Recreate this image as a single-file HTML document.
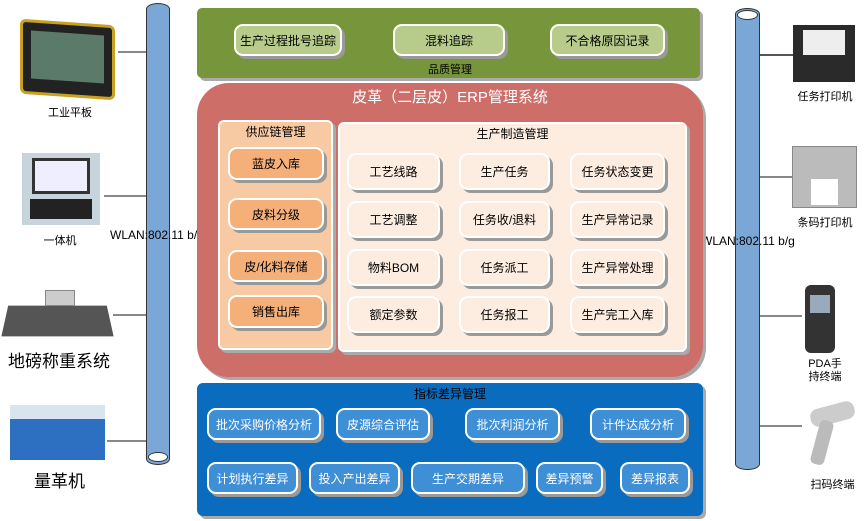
<!DOCTYPE html>
<html><head><meta charset="utf-8"><style>
*{margin:0;padding:0;box-sizing:border-box}
body{width:865px;height:521px;background:#fff;position:relative;overflow:hidden;font-family:"Liberation Sans","Noto Sans CJK SC",sans-serif;font-size:12px;color:#000}
.a{position:absolute}
.p{position:absolute;box-shadow:3px 3px 0 #aaa}
.b{position:absolute;display:flex;align-items:center;justify-content:center;border:2px solid #fff;border-radius:9px;box-shadow:3px 3px 0 #999;font-size:12px}
.g{background:#b7cc8a}
.o{background:#f5b07a}
.w{background:#fdece0;border-color:#fff}
.bl{background:#3e8fd6;color:#fff}
.t{position:absolute;text-align:center;font-size:11px}
.ln{position:absolute;height:2px;background:#888}
</style></head><body>
<!-- pillars -->
<div class="a" style="left:146px;top:3px;width:24px;height:462px;background:#7ba7d6;border:1px solid #333;border-radius:12px/6px"></div>
<div class="a" style="left:148px;top:452px;width:20px;height:10px;border:1px solid #333;border-radius:50%;background:#fff"></div>
<div class="a" style="left:735px;top:8px;width:25px;height:462px;background:#7ba7d6;border:1px solid #333;border-radius:12px/6px"></div>
<div class="a" style="left:737px;top:10px;width:21px;height:10px;border:1px solid #333;border-radius:50%;background:#fff"></div>
<div class="a" style="left:110px;top:228px;font-size:12px">WLAN:802.11 b/g</div>
<div class="a" style="left:701px;top:234px;font-size:12px">WLAN:802.11 b/g</div>
<!-- connectors -->
<div class="ln" style="left:118px;top:51px;width:28px"></div>
<div class="ln" style="left:104px;top:195px;width:42px"></div>
<div class="ln" style="left:113px;top:314px;width:33px"></div>
<div class="ln" style="left:107px;top:440px;width:39px"></div>
<div class="ln" style="left:760px;top:54px;width:40px;background:#555"></div>
<div class="ln" style="left:760px;top:176px;width:32px"></div>
<div class="ln" style="left:760px;top:315px;width:42px"></div>
<div class="ln" style="left:760px;top:425px;width:42px"></div>
<!-- left devices -->
<div class="a" style="left:20px;top:22px;width:95px;height:75px;background:#222;border:3px solid #c9a020;border-radius:6px;transform:skewY(4deg)"><div style="margin:8px;height:48px;background:#5c7a6a"></div></div>
<div class="t" style="left:40px;top:104px;width:60px">工业平板</div>
<div class="a" style="left:22px;top:153px;width:78px;height:72px;background:#c8d4dc"><div style="margin:5px 10px;height:36px;background:#eef;border:3px solid #333"></div><div style="margin:0 8px;height:20px;background:#222"></div></div>
<div class="t" style="left:35px;top:232px;width:50px">一体机</div>
<div class="a" style="left:5px;top:300px;width:105px;height:40px;background:#555;transform:perspective(200px) rotateX(40deg)"></div>
<div class="a" style="left:45px;top:290px;width:30px;height:16px;background:#ccc;border:1px solid #888"></div>
<div class="a" style="left:8px;top:347px;font-size:17px">地磅称重系统</div>
<div class="a" style="left:10px;top:405px;width:95px;height:55px;background:#2d6fc0;border-top:14px solid #d8e4ee"></div>
<div class="a" style="left:34px;top:467px;font-size:17px">量革机</div>
<!-- right devices -->
<div class="a" style="left:793px;top:25px;width:62px;height:57px;background:#2a2a2a"><div style="margin:5px 10px;height:25px;background:#eee"></div></div>
<div class="t" style="left:795px;top:88px;width:60px">任务打印机</div>
<div class="a" style="left:792px;top:146px;width:65px;height:62px;background:#bbb;border:1px solid #888"><div style="margin:32px 18px 0;height:26px;background:#fff"></div></div>
<div class="t" style="left:795px;top:214px;width:60px">条码打印机</div>
<div class="a" style="left:805px;top:285px;width:30px;height:68px;background:#333;border-radius:6px"><div style="margin:10px 5px;height:18px;background:#9ab"></div></div>
<div class="t" style="left:800px;top:358px;width:50px;line-height:13px">PDA手<br>持终端</div>
<div class="a" style="left:810px;top:405px;width:45px;height:18px;background:#ccc;border-radius:8px;transform:rotate(-15deg)"></div>
<div class="a" style="left:815px;top:420px;width:14px;height:45px;background:#bbb;border-radius:5px;transform:rotate(15deg)"></div>
<div class="t" style="left:805px;top:476px;width:55px">扫码终端</div>
<!-- green -->
<div class="p" style="left:197px;top:8px;width:503px;height:70px;background:#77963c;border-radius:5px"></div>
<div class="b g" style="left:234px;top:24px;width:108px;height:32px">生产过程批号追踪</div>
<div class="b g" style="left:393px;top:24px;width:112px;height:32px">混料追踪</div>
<div class="b g" style="left:550px;top:24px;width:115px;height:32px">不合格原因记录</div>
<div class="t" style="left:400px;top:61px;width:100px">品质管理</div>
<!-- red -->
<div class="p" style="left:197px;top:83px;width:506px;height:294px;background:#cd6e69;border-radius:32px"></div>
<div class="a" style="left:300px;top:86px;width:300px;text-align:center;color:#fff;font-size:15px">皮革（二层皮）ERP管理系统</div>
<div class="p" style="left:218px;top:120px;width:115px;height:230px;background:#f8caa3;border:2px solid #fff;border-radius:6px"></div>
<div class="t" style="left:218px;top:123px;width:115px;font-size:12px">供应链管理</div>
<div class="b o" style="left:228px;top:147px;width:96px;height:33px">蓝皮入库</div>
<div class="b o" style="left:228px;top:198px;width:96px;height:32px">皮料分级</div>
<div class="b o" style="left:228px;top:250px;width:96px;height:32px">皮/化料存储</div>
<div class="b o" style="left:228px;top:295px;width:96px;height:33px">销售出库</div>
<div class="p" style="left:338px;top:122px;width:349px;height:230px;background:#fdece0;border:2px solid #fff;border-radius:6px"></div>
<div class="t" style="left:338px;top:125px;width:349px;font-size:12px">生产制造管理</div>
<div class="b w" style="left:347px;top:153px;width:93px;height:37px">工艺线路</div>
<div class="b w" style="left:459px;top:153px;width:91px;height:37px">生产任务</div>
<div class="b w" style="left:570px;top:153px;width:95px;height:37px">任务状态变更</div>
<div class="b w" style="left:347px;top:201px;width:93px;height:37px">工艺调整</div>
<div class="b w" style="left:459px;top:201px;width:91px;height:37px">任务收/退料</div>
<div class="b w" style="left:570px;top:201px;width:95px;height:37px">生产异常记录</div>
<div class="b w" style="left:347px;top:249px;width:93px;height:37px">物料BOM</div>
<div class="b w" style="left:459px;top:249px;width:91px;height:37px">任务派工</div>
<div class="b w" style="left:570px;top:249px;width:95px;height:37px">生产异常处理</div>
<div class="b w" style="left:347px;top:296px;width:93px;height:37px">额定参数</div>
<div class="b w" style="left:459px;top:296px;width:91px;height:37px">任务报工</div>
<div class="b w" style="left:570px;top:296px;width:95px;height:37px">生产完工入库</div>
<!-- blue -->
<div class="p" style="left:197px;top:383px;width:506px;height:133px;background:#0a6cbf;border-radius:6px"></div>
<div class="t" style="left:400px;top:385px;width:100px;font-size:12px">指标差异管理</div>
<div class="b bl" style="left:207px;top:408px;width:114px;height:32px">批次采购价格分析</div>
<div class="b bl" style="left:336px;top:408px;width:94px;height:32px">皮源综合评估</div>
<div class="b bl" style="left:465px;top:408px;width:95px;height:32px">批次利润分析</div>
<div class="b bl" style="left:590px;top:408px;width:96px;height:32px">计件达成分析</div>
<div class="b bl" style="left:207px;top:462px;width:91px;height:32px">计划执行差异</div>
<div class="b bl" style="left:309px;top:462px;width:91px;height:32px">投入产出差异</div>
<div class="b bl" style="left:411px;top:462px;width:114px;height:32px">生产交期差异</div>
<div class="b bl" style="left:536px;top:462px;width:67px;height:32px">差异预警</div>
<div class="b bl" style="left:620px;top:462px;width:70px;height:32px">差异报表</div>
</body></html>
